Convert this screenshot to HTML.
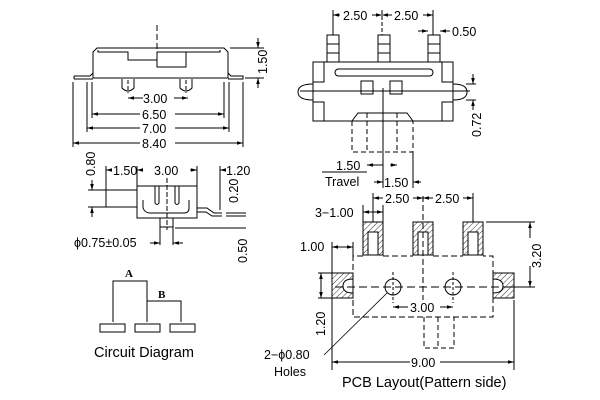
<!DOCTYPE html>
<html><head><meta charset="utf-8"><style>
html,body{margin:0;padding:0;background:#fff;}
svg{display:block;}
text{font-family:"Liberation Sans",sans-serif;font-size:12.5px;fill:#000;}
</style></head><body>
<svg width="600" height="400" viewBox="0 0 600 400" xmlns="http://www.w3.org/2000/svg">
<defs>
<marker id="a" viewBox="0 0 10 10" refX="10" refY="5" markerWidth="6" markerHeight="6" orient="auto-start-reverse"><path d="M0,2 L10,5 L0,8z" fill="#000"/></marker>
<pattern id="h" width="4" height="4" patternUnits="userSpaceOnUse" patternTransform="rotate(45)"><line x1="0" y1="0" x2="0" y2="4" stroke="#000" stroke-width="0.8"/></pattern>
</defs>
<g stroke="#000" stroke-width="1" fill="none">
<path d="M93,78 L93,52 L97,48 L224,48 L228,52 L228,78 Z"/>
<path d="M98,50 L98,52 L128,52 L128,60 L157,60 L157,52 L220,52 L220,50"/>
<path d="M157,52 L157,67 L186,67 L186,52"/>
<path d="M74,76 L90,76 L93,73 M74,79 L93,79 M74,76 L74,79 M228,73 L231,76 L243,76 L243,79 L228,79"/>
<path d="M122,79 L122,88 Q128,94 134,88 L134,79 M180,79 L180,88 Q186,94 192,88 L192,79"/>
<line x1="157" y1="25" x2="157" y2="62" stroke-dasharray="6,3"/>
<line x1="128" y1="80" x2="128" y2="93" stroke-dasharray="4,2"/><line x1="186" y1="80" x2="186" y2="93" stroke-dasharray="4,2"/>
<line x1="92" y1="82" x2="92" y2="118"/><line x1="224" y1="82" x2="224" y2="118"/>
<line x1="87" y1="82" x2="87" y2="132"/><line x1="229" y1="82" x2="229" y2="132"/>
<line x1="73" y1="82" x2="73" y2="147"/><line x1="243" y1="82" x2="243" y2="147"/>
<line x1="128" y1="98" x2="143" y2="98" marker-start="url(#a)"/><line x1="174" y1="98" x2="188" y2="98" marker-end="url(#a)"/>
<line x1="92" y1="114" x2="140" y2="114" marker-start="url(#a)"/><line x1="175" y1="114" x2="224" y2="114" marker-end="url(#a)"/>
<line x1="87" y1="128" x2="140" y2="128" marker-start="url(#a)"/><line x1="175" y1="128" x2="229" y2="128" marker-end="url(#a)"/>
<line x1="73" y1="143" x2="140" y2="143" marker-start="url(#a)"/><line x1="175" y1="143" x2="243" y2="143" marker-end="url(#a)"/>
<line x1="230" y1="48" x2="264" y2="48"/><line x1="245" y1="78" x2="264" y2="78"/>
<line x1="258" y1="38" x2="258" y2="48" marker-end="url(#a)"/><line x1="258" y1="88" x2="258" y2="78" marker-end="url(#a)"/>
<rect x="137" y="186" width="60" height="32"/>
<rect x="106" y="190" width="31" height="17"/>
<path d="M143,200 L143,208 Q145,213 150,213 L184,213 Q189,213 189,208 L189,200"/>
<path d="M155,186 L155,203 Q157,206 159,203 L159,186 M175,186 L175,203 Q177,206 179,203 L179,186"/>
<path d="M160,218 L160,227 L173,227 L173,218 M197,208 L207,208 L214,213 L222,213 M197,212 L206,212 L212,216 L222,216"/>
<line x1="167" y1="178" x2="167" y2="230" stroke-dasharray="5,2"/>
<line x1="137" y1="166" x2="137" y2="186"/><line x1="197" y1="166" x2="197" y2="186"/><line x1="106" y1="166" x2="106" y2="190"/><line x1="220" y1="166" x2="220" y2="210"/>
<line x1="106" y1="170" x2="112" y2="170" marker-start="url(#a)"/><line x1="137" y1="170" x2="143" y2="170" marker-start="url(#a)"/><line x1="197" y1="170" x2="190" y2="170" marker-start="url(#a)"/><line x1="220" y1="170" x2="226" y2="170" marker-start="url(#a)"/>
<line x1="88" y1="190" x2="106" y2="190"/><line x1="88" y1="207" x2="106" y2="207"/>
<line x1="92" y1="180" x2="92" y2="190" marker-end="url(#a)"/><line x1="92" y1="217" x2="92" y2="207" marker-end="url(#a)"/>
<line x1="226" y1="213" x2="246" y2="213"/><line x1="226" y1="216" x2="246" y2="216"/><line x1="175" y1="228" x2="246" y2="228"/>
<line x1="160" y1="225" x2="160" y2="245"/><line x1="173" y1="225" x2="173" y2="245"/>
<line x1="150" y1="243" x2="160" y2="243" marker-end="url(#a)"/><line x1="183" y1="243" x2="173" y2="243" marker-end="url(#a)"/>
<path d="M113,322 L113,281 L147,281 L147,322 M147,301 L181,301 L181,322"/>
<rect x="100" y="324" width="25" height="8"/><rect x="135" y="324" width="25" height="8"/><rect x="170" y="324" width="25" height="8"/>
<rect x="327" y="35" width="12" height="27"/><rect x="378" y="35" width="12" height="27"/><rect x="428" y="35" width="12" height="27"/>
<path d="M327,44 h12 M327,53 h12 M378,44 h12 M378,53 h12 M428,44 h12 M428,53 h12"/>
<rect x="313" y="62" width="140" height="59"/>
<rect x="313" y="62" width="11" height="20"/><rect x="313" y="102" width="11" height="19"/>
<rect x="442" y="62" width="11" height="20"/><rect x="442" y="102" width="11" height="19"/>
<rect x="335" y="69" width="98" height="7" rx="3.5"/>
<rect x="361" y="81" width="12" height="13"/><rect x="390" y="81" width="12" height="13"/>
<path d="M313,84 Q298,84 298,92 Q298,100 313,100 M453,84 Q467,84 467,92 Q467,100 453,100"/>
<line x1="300" y1="91" x2="470" y2="91"/>
<path d="M352,121 L358,113 L407,113 L413,121"/>
<path d="M352,121 L352,152 L413,152 L413,121" stroke-dasharray="5,3"/>
<line x1="367" y1="113" x2="367" y2="152" stroke-dasharray="5,3"/><line x1="397" y1="113" x2="397" y2="152" stroke-dasharray="5,3"/>
<line x1="383" y1="88" x2="383" y2="188"/><line x1="413" y1="152" x2="413" y2="188"/>
<line x1="382" y1="10" x2="382" y2="35" stroke-dasharray="4,2"/><line x1="333" y1="10" x2="333" y2="35"/><line x1="433" y1="10" x2="433" y2="35"/>
<line x1="333" y1="15" x2="340" y2="15" marker-start="url(#a)"/><line x1="372" y1="15" x2="382" y2="15" marker-end="url(#a)"/>
<line x1="382" y1="15" x2="392" y2="15" marker-start="url(#a)"/><line x1="423" y1="15" x2="433" y2="15" marker-end="url(#a)"/>
<line x1="418" y1="31" x2="428" y2="31" marker-end="url(#a)"/><line x1="450" y1="31" x2="440" y2="31" marker-end="url(#a)"/>
<line x1="466" y1="84" x2="476" y2="84"/><line x1="466" y1="100" x2="476" y2="100"/>
<line x1="473" y1="74" x2="473" y2="84" marker-end="url(#a)"/><line x1="473" y1="110" x2="473" y2="100" marker-end="url(#a)"/>
<line x1="367" y1="165" x2="383" y2="165"/>
<line x1="374" y1="165" x2="367" y2="165" marker-end="url(#a)"/><line x1="390" y1="165" x2="397" y2="165" marker-end="url(#a)"/>
<line x1="374" y1="182" x2="383" y2="182" marker-end="url(#a)"/><line x1="421" y1="182" x2="413" y2="182" marker-end="url(#a)"/>
<line x1="322" y1="172" x2="367" y2="172"/>
<rect x="363" y="222" width="20" height="33" fill="url(#h)"/><rect x="413" y="222" width="20" height="33" fill="url(#h)"/><rect x="463" y="222" width="20" height="33" fill="url(#h)"/>
<rect x="368" y="232" width="10" height="23" fill="#fff"/><rect x="418" y="232" width="10" height="23" fill="#fff"/><rect x="468" y="232" width="10" height="23" fill="#fff"/>
<rect x="332" y="273" width="21" height="25" fill="url(#h)"/><rect x="493" y="273" width="21" height="25" fill="url(#h)"/>
<path d="M353,279 Q343,279 343,286 Q343,293 353,293 Z M493,279 Q503,279 503,286 Q503,293 493,293 Z" fill="#fff"/>
<path d="M363,256 L353,256 L353,317 L493,317 L493,256 L483,256 M383,256 L413,256 M433,256 L463,256" stroke-dasharray="6,3"/>
<path d="M424,317 L424,348 L454,348 L454,317 M438,317 L438,348" stroke-dasharray="5,3"/>
<line x1="335" y1="287" x2="512" y2="287" stroke-dasharray="8,4"/>
<circle cx="393" cy="287" r="8"/><circle cx="453" cy="287" r="8"/>
<line x1="393" y1="272" x2="393" y2="303" stroke-dasharray="3,2"/><line x1="453" y1="272" x2="453" y2="303" stroke-dasharray="3,2"/>
<line x1="423" y1="196" x2="423" y2="300" stroke-dasharray="6,3"/>
<line x1="373" y1="193" x2="373" y2="222"/><line x1="473" y1="193" x2="473" y2="222"/>
<line x1="373" y1="198" x2="383" y2="198" marker-start="url(#a)"/><line x1="413" y1="198" x2="423" y2="198" marker-end="url(#a)"/>
<line x1="423" y1="198" x2="433" y2="198" marker-start="url(#a)"/><line x1="463" y1="198" x2="473" y2="198" marker-end="url(#a)"/>
<line x1="363" y1="205" x2="363" y2="222"/><line x1="383" y1="205" x2="383" y2="222"/>
<line x1="363" y1="212" x2="383" y2="212" marker-start="url(#a)" marker-end="url(#a)"/>
<line x1="332" y1="242" x2="332" y2="370"/><line x1="353" y1="242" x2="353" y2="256"/>
<line x1="332" y1="247" x2="353" y2="247" marker-start="url(#a)" marker-end="url(#a)"/>
<line x1="318" y1="273" x2="332" y2="273"/><line x1="318" y1="298" x2="332" y2="298"/>
<line x1="321" y1="273" x2="321" y2="298" marker-start="url(#a)" marker-end="url(#a)"/>
<line x1="486" y1="222" x2="535" y2="222"/><line x1="510" y1="287" x2="535" y2="287"/>
<line x1="530" y1="222" x2="530" y2="238" marker-start="url(#a)"/><line x1="530" y1="266" x2="530" y2="287" marker-end="url(#a)"/>
<line x1="514" y1="300" x2="514" y2="370"/>
<line x1="393" y1="307" x2="408" y2="307" marker-start="url(#a)"/><line x1="440" y1="307" x2="453" y2="307" marker-end="url(#a)"/>
<line x1="332" y1="362" x2="410" y2="362" marker-start="url(#a)"/><line x1="440" y1="362" x2="514" y2="362" marker-end="url(#a)"/>
<line x1="324" y1="355" x2="387" y2="293" stroke-width="0.8"/>
</g>
<text x="143" y="103">3.00</text>
<text x="142" y="119">6.50</text>
<text x="142" y="133">7.00</text>
<text x="142" y="148">8.40</text>
<text transform="translate(267,74) rotate(-90)">1.50</text>
<text transform="translate(95,176) rotate(-90)">0.80</text>
<text x="113" y="175">1.50</text>
<text x="154" y="175">3.00</text>
<text x="226" y="175">1.20</text>
<text transform="translate(238,203) rotate(-90)">0.20</text>
<text x="74" y="247">ϕ0.75±0.05</text>
<text transform="translate(247,263) rotate(-90)">0.50</text>
<text x="125" y="277" style="font-family:'Liberation Serif',serif;font-weight:bold;font-size:11px">A</text>
<text x="158" y="298" style="font-family:'Liberation Serif',serif;font-weight:bold;font-size:11px">B</text>
<text x="94" y="357" style="font-size:14.5px">Circuit Diagram</text>
<text x="343" y="20">2.50</text>
<text x="394" y="20">2.50</text>
<text x="452" y="36">0.50</text>
<text transform="translate(481,137) rotate(-90)">0.72</text>
<text x="336" y="170">1.50</text>
<text x="325" y="186">Travel</text>
<text x="384" y="187">1.50</text>
<text x="385" y="203">2.50</text>
<text x="435" y="203">2.50</text>
<text x="315" y="217">3−1.00</text>
<text x="300" y="251">1.00</text>
<text transform="translate(541,268) rotate(-90)">3.20</text>
<text transform="translate(325,336) rotate(-90)">1.20</text>
<text x="410" y="312">3.00</text>
<text x="411" y="367">9.00</text>
<text x="264" y="359">2−ϕ0.80</text>
<text x="274" y="376">Holes</text>
<text x="342" y="387" style="font-size:14.5px">PCB Layout(Pattern side)</text>
</svg>
</body></html>
